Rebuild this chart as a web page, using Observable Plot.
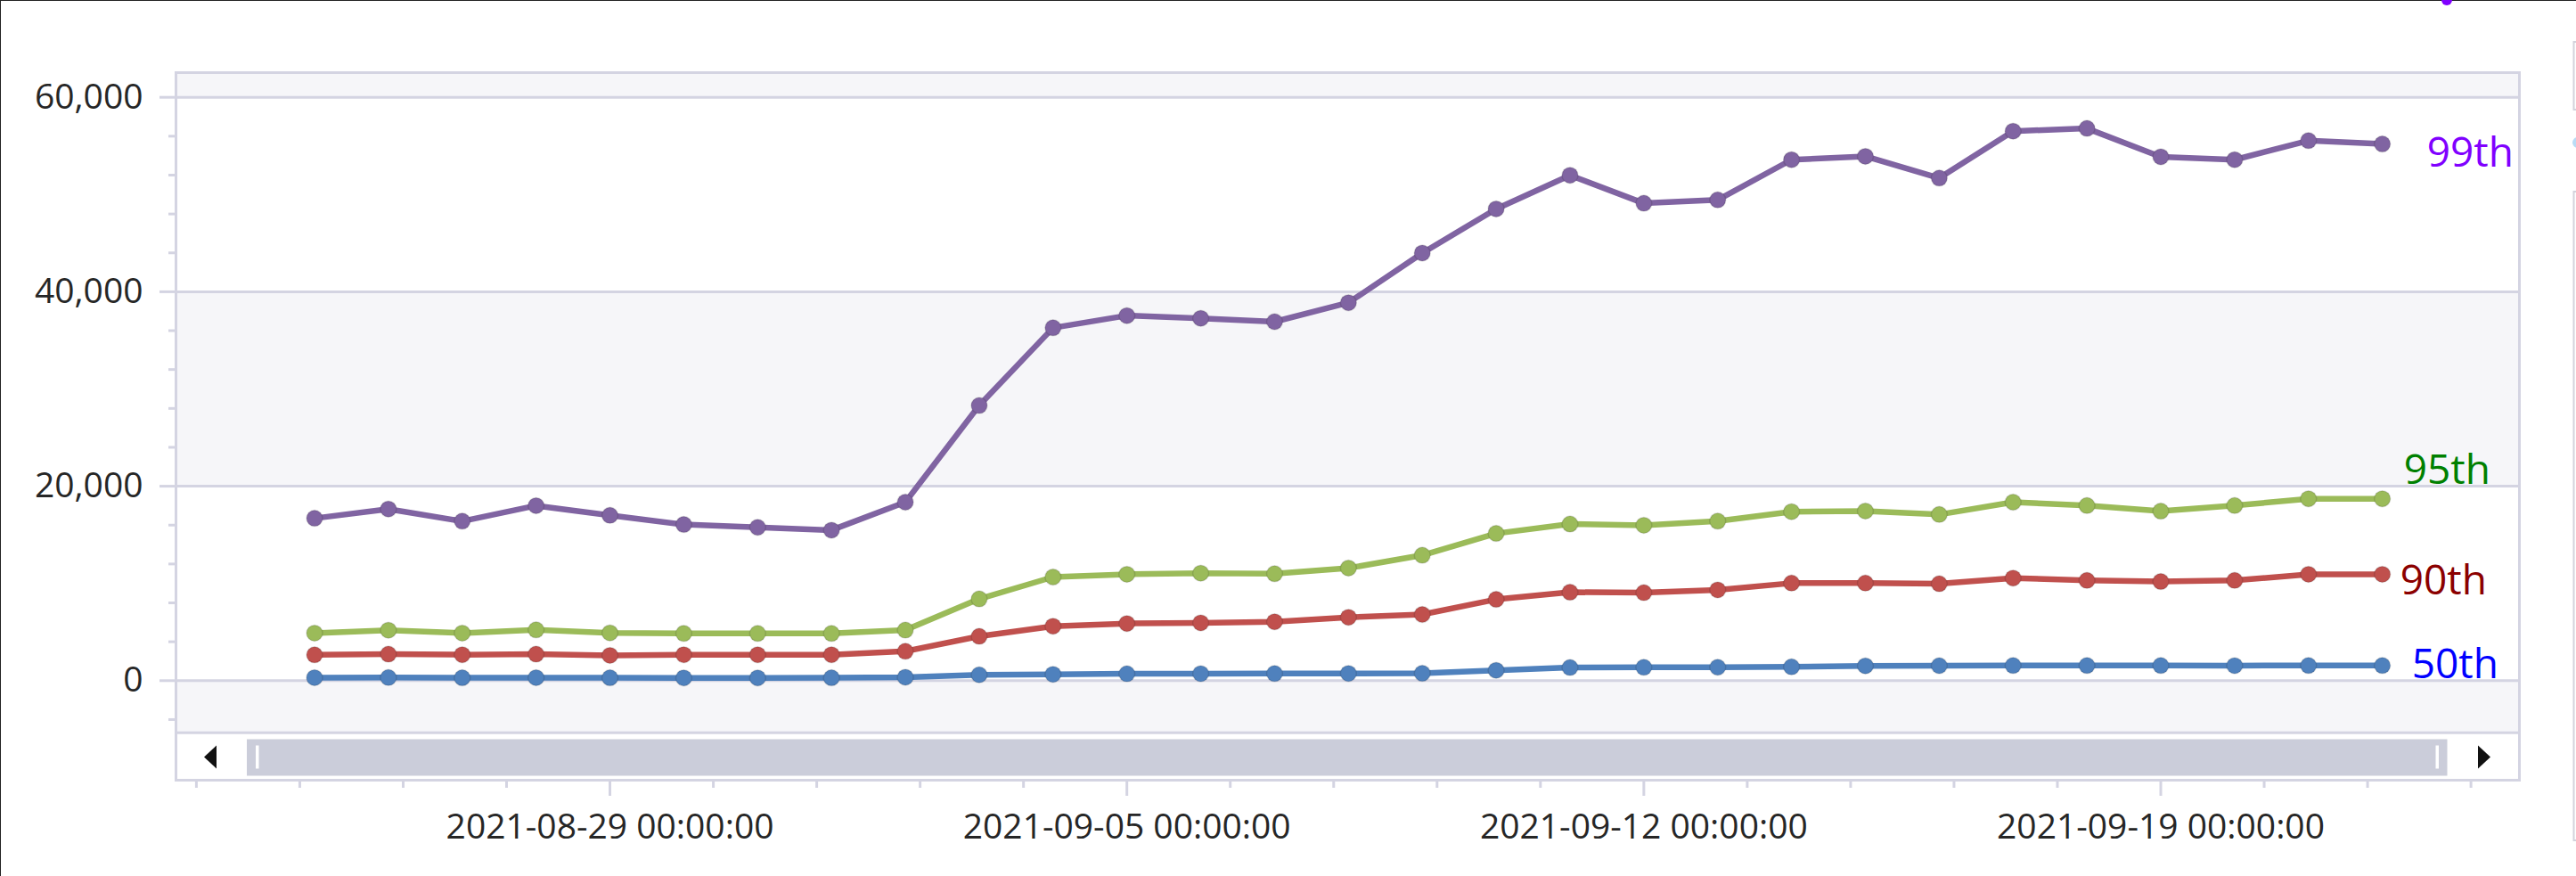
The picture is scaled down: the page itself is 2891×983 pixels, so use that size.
<!DOCTYPE html>
<html>
<head>
<meta charset="utf-8">
<script src="https://cdn.jsdelivr.net/npm/d3@7"></script>
<script src="https://cdn.jsdelivr.net/npm/@observablehq/plot@0.6"></script>
<style>
  html, body { margin: 0; padding: 0; background: #ffffff; }
  #wrap { position: relative; width: 2891px; height: 983px; overflow: hidden; }
  #wrap svg { position: absolute; left: 0; top: 0; }
  #edge { position: absolute; left: 0; top: 0; width: 2891px; height: 983px;
          border-top: 1px solid #222; border-left: 1px solid #222; box-sizing: border-box; pointer-events: none; }
</style>
</head>
<body>
<div id="wrap"><div id="edge"></div></div>
<script>
// ---- data ----
const dates = [
  "2021-08-25","2021-08-26","2021-08-27","2021-08-28","2021-08-29","2021-08-30","2021-08-31",
  "2021-09-01","2021-09-02","2021-09-03","2021-09-04","2021-09-05","2021-09-06","2021-09-07",
  "2021-09-08","2021-09-09","2021-09-10","2021-09-11","2021-09-12","2021-09-13","2021-09-14",
  "2021-09-15","2021-09-16","2021-09-17","2021-09-18","2021-09-19","2021-09-20","2021-09-21",
  "2021-09-22"
];
const p99 = [16700, 17650, 16400, 18000, 17000, 16060, 15770, 15480, 18360, 28300, 36290, 37550, 37270, 36920,
             38870, 43980, 48520, 51980, 49100, 49450, 53580, 53930, 51690, 56520, 56800, 53880, 53580, 55540, 55200];
const p95 = [4890, 5190, 4890, 5220, 4910, 4860, 4860, 4860, 5200, 8410, 10660, 10940, 11060, 11000,
             11580, 12900, 15140, 16110, 15980, 16410, 17380, 17450, 17090, 18360, 18010, 17440, 18010, 18710, 18710];
const p90 = [2660, 2730, 2670, 2730, 2600, 2670, 2670, 2670, 3020, 4560, 5600, 5880, 5950, 6060,
             6520, 6810, 8360, 9100, 9050, 9340, 10030, 10030, 9970, 10550, 10310, 10200, 10310, 10940, 10940];
const p50 = [310, 320, 300, 310, 300, 290, 290, 300, 350, 600, 650, 710, 720, 730,
             740, 760, 1060, 1350, 1370, 1380, 1420, 1520, 1540, 1560, 1560, 1560, 1550, 1560, 1560];

const seriesNames = ["99th", "95th", "90th", "50th"];
const seriesValues = [p99, p95, p90, p50];

// ---- axis ticks ----
const yMajorTicks = [0, 20000, 40000, 60000];
const yMinorTicks = [-4000, 4000, 8000, 12000, 16000, 24000, 28000, 32000, 36000, 44000, 48000, 52000, 56000];
const xMajorTickLabels = ["2021-08-29", "2021-09-05", "2021-09-12", "2021-09-19"];
const xMinorStepDays = 1.4;

// ---- scale extents (visible window of the chart) ----
const xWindow = ["2021-08-23T02:58:00Z", "2021-09-23T20:33:00Z"];
const yWindow = [-5353, 62566];
const bands = [ {y1: 60000, y2: 62566}, {y1: 20000, y2: 40000}, {y1: -5353, y2: 0} ];

// ---- styles ----
const lineColors  = ["#8064a2", "#9bbb59", "#c0504d", "#4f81bd"];
const labelColors = ["#8000ff", "#008000", "#8b0000", "#0000ff"];
const labelOffsets = [ {dx: 50, dy: 11}, {dx: 24, dy: -31}, {dx: 20, dy: 8}, {dx: 33, dy: -1} ];
const gridColor = "#d4d4e2";
const bandColor = "#f6f6f9";
const textColor = "#262626";
const FONT = '"Open Sans", "Noto Sans", sans-serif';

// ---- build table ----
const toDate = s => new Date(s + "T00:00:00Z");
const rows = [];
seriesNames.forEach((name, si) => {
  seriesValues[si].forEach((v, i) => rows.push({date: toDate(dates[i]), value: v, series: name}));
});

const majorX = xMajorTickLabels.map(toDate);
const base = majorX[0].getTime();
const DAY = 86400000;
const minorX = d3.range(-4, 19).filter(k => k % 5 !== 0).map(k => new Date(base + k * xMinorStepDays * DAY));

const labelMarks = seriesNames.map((name, si) => {
  const last = rows.filter(r => r.series === name).slice(-1);
  return Plot.text(last, {
    x: "date", y: "value", text: "series",
    fill: labelColors[si], fontSize: 46, textAnchor: "start", lineAnchor: "middle",
    dx: labelOffsets[si].dx, dy: labelOffsets[si].dy
  });
});

const W = 2891, H = 983;
const chart = Plot.plot({
  width: W, height: H,
  marginLeft: 197, marginRight: 64, marginTop: 81, marginBottom: 108,
  style: {fontFamily: FONT, background: "transparent", overflow: "visible"},
  x: {type: "utc", domain: xWindow.map(s => new Date(s)), label: null},
  y: {domain: yWindow, range: [821.7, 80.7], label: null},
  color: {domain: seriesNames, range: lineColors},
  marks: [
    Plot.rect(bands, {y1: "y1", y2: "y2", fill: bandColor}),
    Plot.ruleY(yMajorTicks, {stroke: gridColor, strokeWidth: 3}),
    Plot.ruleY([yWindow[0]], {stroke: gridColor, strokeWidth: 3}),
    Plot.axisY(yMinorTicks, {tickSize: 8, tickFormat: () => "", stroke: gridColor, strokeWidth: 3, label: null}),
    Plot.axisY(yMajorTicks, {tickSize: 18, tickPadding: 19, tickFormat: d3.format(","), fontSize: 39,
                             fill: textColor, stroke: gridColor, strokeWidth: 3, label: null}),
    Plot.axisX(minorX, {tickSize: 9, tickFormat: () => "", stroke: gridColor, strokeWidth: 3, label: null}),
    Plot.axisX(majorX, {tickSize: 18, tickPadding: 20, tickFormat: d3.utcFormat("%Y-%m-%d %H:%M:%S"),
                        fontSize: 39, fill: textColor, stroke: gridColor, strokeWidth: 3, label: null}),
    Plot.line(rows, {x: "date", y: "value", z: "series", stroke: "series", strokeWidth: 6.5,
                     strokeLinejoin: "round", strokeLinecap: "round"}),
    Plot.dot(rows, {x: "date", y: "value", fill: "series", r: 9, stroke: "#000", strokeOpacity: 0.12, strokeWidth: 1.5}),
    ...labelMarks,
    Plot.frame({stroke: gridColor, strokeWidth: 3})
  ]
});

// ---- scrollbar and window chrome (UI decoration, not data) ----
const svg = d3.select(chart);
const ui = svg.append("g");
ui.append("rect").attr("x", 277).attr("y", 829.5).attr("width", 2469.5).attr("height", 41)
  .attr("fill", "#cbcdda");
ui.append("rect").attr("x", 287).attr("y", 836.5).attr("width", 3.5).attr("height", 26).attr("fill", "#ffffff");
ui.append("rect").attr("x", 2733.5).attr("y", 836.5).attr("width", 3.5).attr("height", 26).attr("fill", "#ffffff");
ui.append("polygon").attr("points", "229,849.5 243,836.5 243,862.5").attr("fill", "#111");
ui.append("polygon").attr("points", "2795,849.5 2781,836.5 2781,862.5").attr("fill", "#111");
ui.append("rect").attr("x", 2888.5).attr("y", 47).attr("width", 10).attr("height", 76)
  .attr("fill", "none").attr("stroke", "#d3d3dc").attr("stroke-width", 2);
ui.append("rect").attr("x", 2888.5).attr("y", 215).attr("width", 10).attr("height", 728)
  .attr("fill", "none").attr("stroke", "#d3d3dc").attr("stroke-width", 2);
ui.append("circle").attr("cx", 2893).attr("cy", 160).attr("r", 6).attr("fill", "#b9dcf5");
ui.append("circle").attr("cx", 2746).attr("cy", 0).attr("r", 6).attr("fill", "#8000ff");

document.getElementById("wrap").appendChild(chart);
</script>
</body>
</html>
